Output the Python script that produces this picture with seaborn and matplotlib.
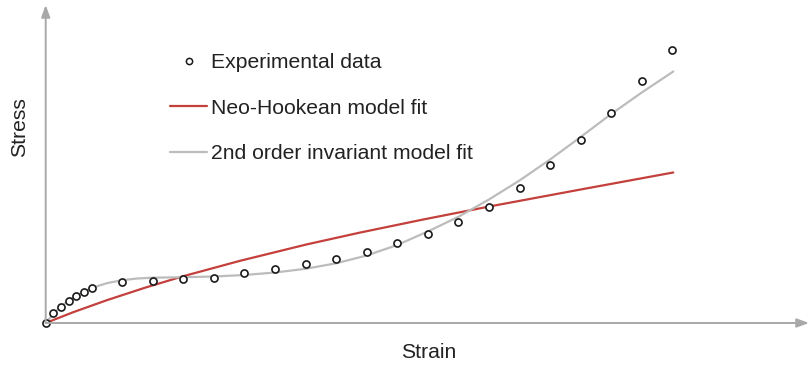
import matplotlib
matplotlib.use("Agg")
import matplotlib.pyplot as plt
import seaborn as sns
import pandas as pd
from matplotlib.lines import Line2D

# Experimental measurements
strain_exp = [0.0, 0.25, 0.5, 0.75, 1.0, 1.25, 1.5,
              2.5, 3.5, 4.5, 5.5, 6.5, 7.5, 8.5, 9.5, 10.5, 11.5,
              12.5, 13.5, 14.5, 15.5, 16.5, 17.5, 18.5, 19.5, 20.5]
stress_exp = [0.0, 0.95, 1.63, 2.17, 2.68, 3.10, 3.45,
              4.07, 4.18, 4.37, 4.53, 4.97, 5.37, 5.87, 6.43, 7.10, 8.00,
              8.93, 10.07, 11.63, 13.47, 15.75, 18.27, 20.97, 24.17, 27.33]

# Neo-Hookean model fit
strain_nh = [0.0, 0.9, 2.0, 3.25, 4.5, 6.36, 8.54, 10.28, 12.4, 14.53, 17.59, 20.53]
stress_nh = [0.0, 1.08, 2.28, 3.53, 4.68, 6.22, 7.86, 9.04, 10.38, 11.66, 13.40, 15.05]

# 2nd order invariant model fit
strain_inv = [0.0, 0.25, 0.5, 0.75, 1.0, 1.5, 2.0, 2.5, 3.0, 3.5, 4.5, 5.5,
              6.5, 7.5, 8.5, 9.5, 10.5, 11.5, 12.5, 13.5, 14.5, 15.5, 16.5,
              17.5, 18.5, 19.5, 20.53]
stress_inv = [0.0, 0.90, 1.65, 2.25, 2.75, 3.50, 3.98, 4.28, 4.45, 4.53, 4.58, 4.65,
              4.80, 5.05, 5.42, 5.97, 6.75, 7.80, 9.15, 10.62, 12.35, 14.25, 16.35,
              18.60, 20.90, 23.05, 25.15]

labels = ["Experimental data", "Neo-Hookean model fit", "2nd order invariant model fit"]

RED = "#c4403c"
GREY = "#bcbcbc"
AXIS = "#a8a8a8"
TEXT = "#222222"
FS = 15.25

sns.set_theme(style="white")
plt.rcParams["font.family"] = ["Liberation Sans", "DejaVu Sans"]

exp_df = pd.DataFrame({"strain": strain_exp, "stress": stress_exp})
nh_df = pd.DataFrame({"strain": strain_nh, "stress": stress_nh})
inv_df = pd.DataFrame({"strain": strain_inv, "stress": stress_inv})

fig = plt.figure(figsize=(8.11, 3.66), dpi=100)
ax = fig.add_axes([0.05635, 0.11749, 0.9412, 0.8689])

sns.lineplot(data=nh_df, x="strain", y="stress", ax=ax, color=RED,
             linewidth=1.6, sort=False, zorder=2)
sns.lineplot(data=inv_df, x="strain", y="stress", ax=ax, color=GREY,
             linewidth=1.6, sort=False, zorder=2)
sns.scatterplot(data=exp_df, x="strain", y="stress", ax=ax, marker="o",
                s=26, facecolor="white", edgecolor="#1a1a1a", linewidth=1.2,
                zorder=3, clip_on=False)

ax.set_xlim(0, 24.97)
ax.set_ylim(0, 31.8)
ax.set_xticks([])
ax.set_yticks([])
ax.set_xlabel("")
ax.set_ylabel("")
for sp in ax.spines.values():
    sp.set_visible(False)

# Axes drawn as arrows
arrow_kw = dict(arrowstyle="-|>,head_length=0.6,head_width=0.22",
                color=AXIS, lw=1.4, shrinkA=0, shrinkB=0)
ax.annotate("", xy=(1, 0), xytext=(0, 0), xycoords="axes fraction",
            textcoords="axes fraction", arrowprops=arrow_kw, annotation_clip=False)
ax.annotate("", xy=(0, 1), xytext=(0, 0), xycoords="axes fraction",
            textcoords="axes fraction", arrowprops=arrow_kw, annotation_clip=False)

fig.text(429 / 811, 1 - 353 / 366, "Strain", ha="center", va="center",
         fontsize=FS, color=TEXT)
fig.text(20 / 811, 1 - 127 / 366, "Stress", ha="center", va="center",
         rotation=90, fontsize=FS, color=TEXT)

handles = [
    Line2D([], [], linestyle="none", marker="o", markersize=4.5,
           markerfacecolor="white", markeredgecolor="#1a1a1a", markeredgewidth=1.1),
    Line2D([], [], color=RED, linewidth=1.6),
    Line2D([], [], color=GREY, linewidth=1.6),
]
leg = fig.legend(handles, labels, loc="upper left",
                 bbox_to_anchor=(170 / 811, 1 - 53.5 / 366),
                 frameon=False, fontsize=FS, handlelength=1.75,
                 handletextpad=0.18, labelspacing=1.24, borderpad=0,
                 borderaxespad=0)
for t in leg.get_texts():
    t.set_color(TEXT)

fig.savefig("out.png", dpi=100)
